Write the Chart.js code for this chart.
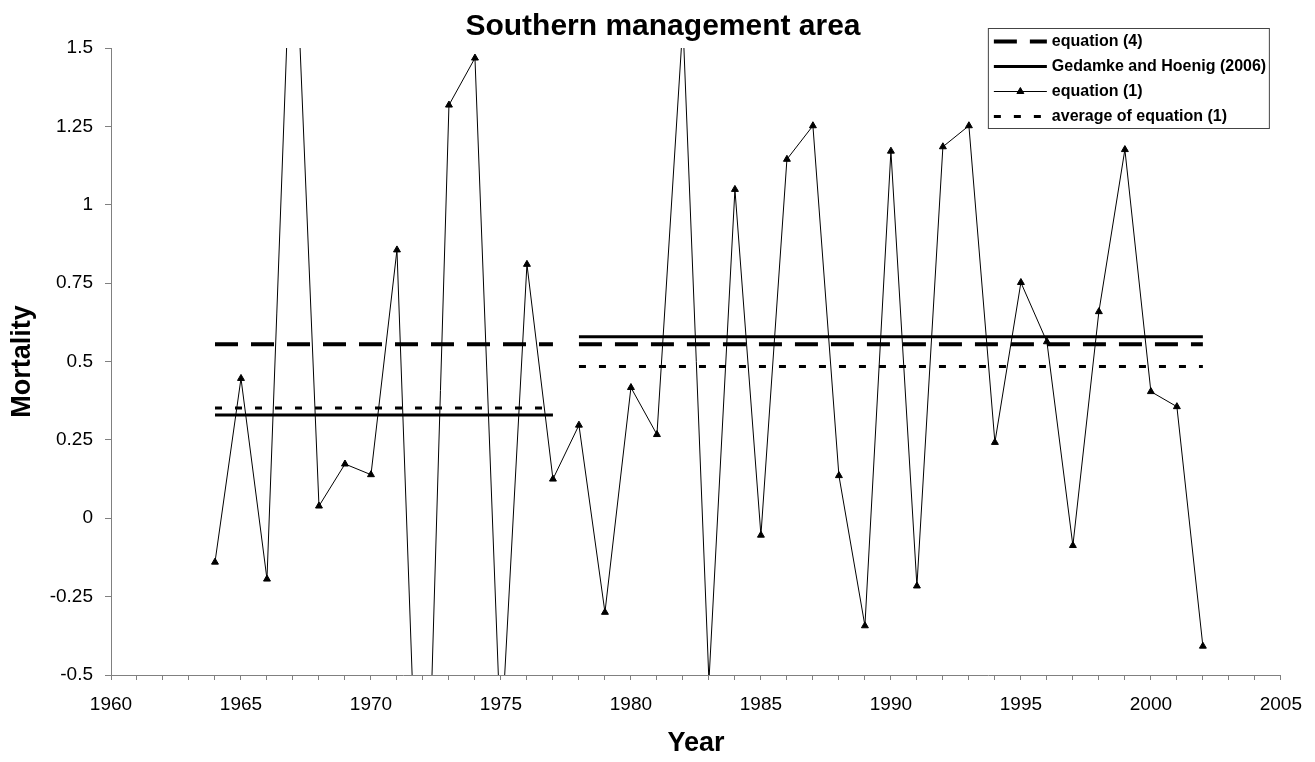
<!DOCTYPE html>
<html>
<head>
<meta charset="utf-8">
<title>Southern management area</title>
<script src="https://cdn.jsdelivr.net/npm/chart.js@4/dist/chart.umd.min.js"></script>
<style>
    body { margin: 0; background: #fff; }
    #wrap { width: 1315px; height: 762px; position: relative; }
</style>
</head>
<body>
<div id="wrap"><canvas id="mortalityChart"></canvas></div>
<script>
// Data
const years = [1964, 1965, 1966, 1967, 1968, 1969, 1970, 1971, 1972, 1973,
    1974, 1975, 1976, 1977, 1978, 1979, 1980, 1981, 1982, 1983,
    1984, 1985, 1986, 1987, 1988, 1989, 1990, 1991, 1992, 1993,
    1994, 1995, 1996, 1997, 1998, 1999, 2000, 2001, 2002];
const equation1 = [-0.14, 0.446, -0.194, 2.05, 0.039, 0.173, 0.139, 0.856, -1.47, 1.318,
    1.468, -0.72, 0.81, 0.125, 0.297, -0.30, 0.417, 0.267, 1.58, -0.52,
    1.049, -0.054, 1.145, 1.252, 0.136, -0.343, 1.171, -0.216, 1.185, 1.252,
    0.242, 0.752, 0.563, -0.087, 0.659, 1.176, 0.404, 0.356, -0.408];

// Two management periods
const periodStart = [1964, 1978];
const periodEnd = [1977, 2002];
const equation4 = [0.555, 0.555];
const gedamkeHoenig = [0.329, 0.579];
const averageEq1 = [0.352, 0.484];

const yTicks = [-0.5, -0.25, 0, 0.25, 0.5, 0.75, 1, 1.25, 1.5];

const FONT = '"Liberation Sans", Arial, Helvetica, sans-serif';

// one flat line per period, with a gap between them
function periodLine(levels) {
    const pts = [];
    for (let i = 0; i < levels.length; i++) {
        if (i > 0) pts.push({x: (periodEnd[i - 1] + periodStart[i]) / 2, y: null});
        pts.push({x: periodStart[i], y: levels[i]});
        pts.push({x: periodEnd[i], y: levels[i]});
    }
    return pts;
}

// Excel style boxed legend in the top right corner
const boxLegend = {
    id: 'boxLegend',
    afterDraw: function(chart) {
        const ctx = chart.ctx;
        const left = chart.chartArea.right - 293;
        const top = 28;
        const width = 281;
        const rowH = 25;
        ctx.save();
        ctx.fillStyle = '#fff';
        ctx.fillRect(left, top, width, 100);
        ctx.strokeStyle = '#444';
        ctx.lineWidth = 1;
        ctx.strokeRect(left + 0.5, top + 0.5, width, 100);

        chart.data.datasets.forEach(function(ds, i) {
            const y = top + 13.5 + i * rowH;
            const x0 = left + 6;
            const x1 = left + 59;
            ctx.save();
            ctx.strokeStyle = '#000';
            ctx.lineWidth = ds.borderWidth;
            ctx.setLineDash(ds.borderDash || []);
            ctx.beginPath();
            ctx.moveTo(x0, y);
            ctx.lineTo(x1, y);
            ctx.stroke();
            ctx.restore();
            if (ds.pointRadius > 0) {
                ctx.fillStyle = '#000';
                ctx.strokeStyle = '#000';
                ctx.lineWidth = 1;
                Chart.helpers.drawPoint(ctx, {pointStyle: 'triangle', radius: ds.pointRadius, borderWidth: 1}, (x0 + x1) / 2, y);
            }
            ctx.fillStyle = '#000';
            ctx.font = 'bold 16px ' + FONT;
            ctx.textBaseline = 'middle';
            ctx.textAlign = 'left';
            ctx.fillText(ds.label, left + 64, y);
        });
        ctx.restore();
    }
};

const ctx = document.getElementById('mortalityChart').getContext('2d');
const mortalityChart = new Chart(ctx, {
    type: 'line',
    data: {
        datasets: [{
            label: 'equation (4)',
            data: periodLine(equation4),
            borderColor: '#000',
            borderWidth: 4,
            borderDash: [23, 13],
            pointRadius: 0,
            fill: false
        }, {
            label: 'Gedamke and Hoenig (2006)',
            data: periodLine(gedamkeHoenig),
            borderColor: '#000',
            borderWidth: 3,
            pointRadius: 0,
            fill: false
        }, {
            label: 'equation (1)',
            data: years.map(function(yr, i) { return {x: yr, y: equation1[i]}; }),
            borderColor: '#000',
            borderWidth: 1,
            pointStyle: 'triangle',
            pointRadius: 4,
            pointBackgroundColor: '#000',
            pointBorderColor: '#000',
            pointBorderWidth: 1,
            fill: false
        }, {
            label: 'average of equation (1)',
            data: periodLine(averageEq1),
            borderColor: '#000',
            borderWidth: 3,
            borderDash: [7, 13],
            pointRadius: 0,
            fill: false
        }]
    },
    options: {
        responsive: true,
        maintainAspectRatio: false,
        animation: false,
        spanGaps: false,
        layout: {
            // left padding pushes the centred title to the right like the original
            padding: {left: 44, right: 33, top: 0, bottom: 0}
        },
        plugins: {
            legend: { display: false },
            tooltip: { enabled: false },
            title: {
                display: true,
                text: 'Southern management area',
                color: '#000',
                font: { family: FONT, size: 30, weight: 'bold' },
                padding: { top: 9, bottom: 3 }
            }
        },
        scales: {
            x: {
                type: 'linear',
                min: 1960,
                max: 2005,
                afterFit: function(scale) { scale.height = 87; },
                ticks: {
                    stepSize: 1,
                    autoSkip: false,
                    maxRotation: 0,
                    padding: 13,
                    color: '#000',
                    font: { family: FONT, size: 19 },
                    callback: function(value) {
                        return value % 5 === 0 ? String(value) : '';
                    }
                },
                grid: {
                    drawOnChartArea: false,
                    drawTicks: true,
                    tickLength: 5,
                    color: '#808080'
                },
                border: { color: '#808080', width: 1 },
                title: {
                    display: true,
                    text: 'Year',
                    color: '#000',
                    font: { family: FONT, size: 27, weight: 'bold' },
                    padding: { top: 0, bottom: 2 }
                }
            },
            y: {
                min: -0.5,
                max: 1.5,
                afterFit: function(scale) { scale.width = 67; },
                afterBuildTicks: function(scale) {
                    scale.ticks = yTicks.map(function(v) { return {value: v}; });
                },
                ticks: {
                    padding: 12,
                    color: '#000',
                    font: { family: FONT, size: 19 },
                    callback: function(value) { return String(value); }
                },
                grid: {
                    drawOnChartArea: false,
                    drawTicks: true,
                    tickLength: 6,
                    color: '#808080'
                },
                border: { color: '#808080', width: 1 },
                title: {
                    display: true,
                    text: 'Mortality',
                    color: '#000',
                    font: { family: FONT, size: 27, weight: 'bold' },
                    padding: { top: -38, bottom: 0 }
                }
            }
        }
    },
    plugins: [boxLegend]
});
</script>
</body>
</html>
